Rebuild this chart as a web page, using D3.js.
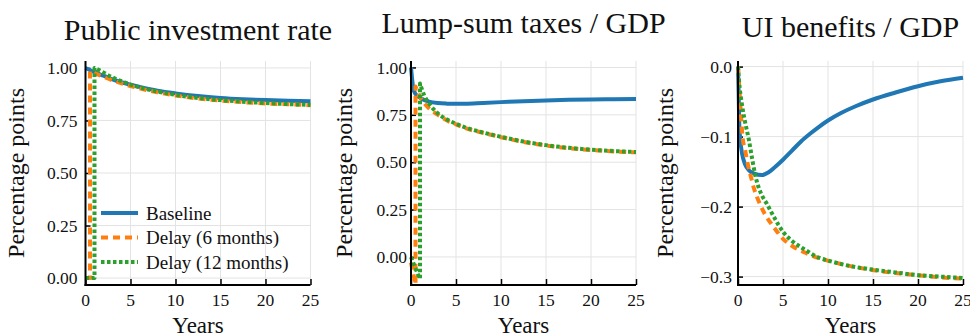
<!DOCTYPE html>
<html>
<head>
<meta charset="utf-8">
<script src="https://cdn.jsdelivr.net/npm/d3@7"></script>
<style>
  html, body { margin: 0; padding: 0; background: #fff; }
  svg { display: block; }
  text { font-family: "Liberation Serif", "DejaVu Serif", serif; fill: #111; }
</style>
</head>
<body>
<svg id="chart" width="970" height="336"></svg>
<script>
// ---- Chart data ----
const panelTitles = ["Public investment rate", "Lump-sum taxes / GDP", "UI benefits / GDP"];
const seriesNames = ["Baseline", "Delay (6 months)", "Delay (12 months)"];
const yearTicks = [0, 5, 10, 15, 20, 25];
const shareTicks = [0, 0.25, 0.5, 0.75, 1];
const uiTicks = [-0.3, -0.2, -0.1, 0];

// Public investment rate
const invBaseT = [0, 1, 2, 3, 4, 5, 6, 8, 10, 12.5, 15, 17.5, 20, 22.5, 25];
const invBaseV = [1.0, 0.98, 0.963, 0.946, 0.932, 0.92, 0.91, 0.892, 0.879, 0.866, 0.857, 0.851, 0.847, 0.844, 0.842];
const invD6PreT = [0, 0.5];
const invD6PreV = [0, 0];
const invD6T = [0.5, 1, 2, 3, 4, 5, 6, 8, 10, 12.5, 15, 17.5, 20, 22.5, 25];
const invD6V = [0.985, 0.975, 0.958, 0.941, 0.927, 0.914, 0.903, 0.884, 0.869, 0.855, 0.845, 0.837, 0.831, 0.827, 0.823];
const invD12PreT = [0, 1];
const invD12PreV = [0, 0];
const invD12T = [1, 1.5, 2, 3, 4, 5, 6, 8, 10, 12.5, 15, 17.5, 20, 22.5, 25];
const invD12V = [1.0, 0.99, 0.978, 0.955, 0.937, 0.921, 0.908, 0.888, 0.872, 0.857, 0.847, 0.839, 0.833, 0.828, 0.824];

// Lump-sum taxes / GDP
const taxBaseT = [0, 0.1, 0.25, 0.5, 1, 1.5, 2, 3, 4, 5, 6, 8, 10, 12.5, 15, 17.5, 20, 22.5, 25];
const taxBaseV = [1.0, 0.95, 0.89, 0.86, 0.84, 0.828, 0.82, 0.812, 0.809, 0.808, 0.809, 0.813, 0.817, 0.822, 0.826, 0.829, 0.831, 0.832, 0.833];
const taxD6PreT = [0, 0.25, 0.5];
const taxD6PreV = [-0.03, -0.09, -0.145];
const taxD6T = [0.5, 0.75, 1, 1.5, 2, 3, 4, 5, 6, 8, 10, 12.5, 15, 17.5, 20, 22.5, 25];
const taxD6V = [0.9, 0.87, 0.845, 0.81, 0.785, 0.75, 0.72, 0.70, 0.68, 0.655, 0.632, 0.607, 0.588, 0.574, 0.564, 0.557, 0.552];
const taxD12PreT = [0, 0.25, 0.5, 0.75, 1];
const taxD12PreV = [0.0, -0.03, -0.06, -0.09, -0.115];
const taxD12T = [1, 1.25, 1.5, 2, 2.5, 3, 4, 5, 6, 8, 10, 12.5, 15, 17.5, 20, 22.5, 25];
const taxD12V = [0.915, 0.88, 0.85, 0.81, 0.78, 0.757, 0.725, 0.703, 0.684, 0.657, 0.634, 0.609, 0.59, 0.576, 0.566, 0.559, 0.554];

// UI benefits / GDP
const uiBaseT = [0, 0.07, 0.15, 0.3, 0.45, 0.8, 1.2, 1.8, 2.65, 3.4, 4.15, 5, 6, 7, 8, 9, 10, 11.5, 13, 15, 17.5, 20, 22.5, 25];
const uiBaseV = [0, -0.038, -0.086, -0.11, -0.124, -0.14, -0.148, -0.153, -0.155, -0.151, -0.143, -0.133, -0.12, -0.107, -0.096, -0.086, -0.077, -0.066, -0.057, -0.047, -0.037, -0.028, -0.021, -0.016];
const uiD6T = [0, 0.1, 0.3, 0.5, 0.8, 1.1, 1.45, 1.75, 2.1, 2.5, 3, 3.9, 5, 6.1, 7.5, 8.8, 10.2, 12.5, 14.7, 17.5, 20, 22.5, 25];
const uiD6V = [0, -0.022, -0.062, -0.1, -0.12, -0.14, -0.158, -0.173, -0.186, -0.198, -0.211, -0.228, -0.246, -0.257, -0.266, -0.273, -0.278, -0.285, -0.29, -0.295, -0.298, -0.301, -0.303];
const uiD12T = [0, 0.1, 0.45, 0.8, 1.2, 1.55, 1.9, 2.3, 2.7, 3.2, 4, 5, 6, 7.5, 8.8, 10, 12.5, 15, 17.5, 20, 22.5, 25];
const uiD12V = [0, -0.018, -0.055, -0.08, -0.104, -0.13, -0.154, -0.173, -0.185, -0.196, -0.215, -0.236, -0.249, -0.262, -0.272, -0.277, -0.285, -0.29, -0.294, -0.298, -0.3, -0.302];

// ---- Styling ----
const colors = ["#1f77b4", "#ff7f0e", "#2ca02c"];
const dashes = [null, "7,5", "3.5,2.5"];
const lineWidth = 4;

const svg = d3.select("#chart");
const plotTop = 61, plotBottom = 285, plotW = 225;

const zipPts = (t, v) => t.map((x, i) => [x, v[i]]);

const panels = [
  {
    title: panelTitles[0], titleY: 40, x0: 85.5, yDomain: [-0.033, 1.033],
    ticks: shareTicks, fmt: d3.format(".2f"), tickLabelX: -8, ylabX: 23.5,
    series: [
      [zipPts(invBaseT, invBaseV)],
      [zipPts(invD6PreT, invD6PreV), zipPts(invD6T, invD6V)],
      [zipPts(invD12PreT, invD12PreV), zipPts(invD12T, invD12V)]
    ],
    legend: true
  },
  {
    title: panelTitles[1], titleY: 33, x0: 411, yDomain: [-0.148, 1.034],
    ticks: shareTicks, fmt: d3.format(".2f"), tickLabelX: -4, ylabX: 352,
    series: [
      [zipPts(taxBaseT, taxBaseV)],
      [zipPts(taxD6PreT, taxD6PreV), zipPts(taxD6T, taxD6V)],
      [zipPts(taxD12PreT, taxD12PreV), zipPts(taxD12T, taxD12V)]
    ]
  },
  {
    title: panelTitles[2], titleY: 37, x0: 738, yDomain: [-0.312, 0.008],
    ticks: uiTicks, fmt: d3.format(".1f"), tickLabelX: -6, ylabX: 673,
    series: [
      [zipPts(uiBaseT, uiBaseV)],
      [zipPts(uiD6T, uiD6V)],
      [zipPts(uiD12T, uiD12V)]
    ]
  }
];

panels.forEach(p => {
  const x = d3.scaleLinear().domain([0, 25]).range([p.x0, p.x0 + plotW]);
  const y = d3.scaleLinear().domain(p.yDomain).range([plotBottom, plotTop]);
  const g = svg.append("g");

  // grid
  g.append("g").selectAll("line").data(yearTicks.slice(1)).join("line")
    .attr("x1", d => x(d)).attr("x2", d => x(d))
    .attr("y1", plotTop).attr("y2", plotBottom)
    .attr("stroke", "#e3e3e3").attr("stroke-width", 1);
  g.append("g").selectAll("line").data(p.ticks).join("line")
    .attr("x1", p.x0).attr("x2", p.x0 + plotW)
    .attr("y1", d => y(d)).attr("y2", d => y(d))
    .attr("stroke", "#e3e3e3").attr("stroke-width", 1);

  // axes (ticks pointing inward)
  const xAxis = d3.axisTop(x).tickValues(yearTicks).tickSize(6).tickFormat("");
  const yAxis = d3.axisRight(y).tickValues(p.ticks).tickSize(5).tickFormat("");
  g.append("g").attr("transform", `translate(0,${plotBottom})`).call(xAxis)
    .call(a => a.select(".domain").remove())
    .selectAll("line").attr("stroke", "#000").attr("stroke-width", 1.5);
  g.append("g").attr("transform", `translate(${p.x0},0)`).call(yAxis)
    .call(a => a.select(".domain").remove())
    .selectAll("line").attr("stroke", "#000").attr("stroke-width", 1.5);

  // tick labels
  g.append("g").selectAll("text").data(yearTicks).join("text")
    .attr("x", d => x(d)).attr("y", 306)
    .attr("text-anchor", "middle").style("font-size", "17.5px")
    .text(d => d);
  g.append("g").selectAll("text").data(p.ticks).join("text")
    .attr("x", p.x0 + p.tickLabelX).attr("y", d => y(d)).attr("dy", "0.35em")
    .attr("text-anchor", "end").style("font-size", "17.5px")
    .text(d => p.fmt(d));

  // series
  const line = d3.line().x(d => x(d[0])).y(d => y(d[1])).curve(d3.curveMonotoneX);
  p.series.forEach((segs, si) => {
    const dStr = segs.map((s, k) => {
      const path = line(s);
      return k === 0 ? path : path.replace(/^M/, "L");
    }).join("");
    g.append("path").attr("d", dStr)
      .attr("fill", "none").attr("stroke", colors[si])
      .attr("stroke-width", lineWidth)
      .attr("stroke-dasharray", dashes[si])
      .attr("stroke-linejoin", "round");
  });

  // axis lines
  g.append("line").attr("x1", p.x0).attr("x2", p.x0)
    .attr("y1", plotTop).attr("y2", plotBottom + 1)
    .attr("stroke", "#000").attr("stroke-width", 2);
  g.append("line").attr("x1", p.x0 - 1).attr("x2", p.x0 + plotW)
    .attr("y1", plotBottom).attr("y2", plotBottom)
    .attr("stroke", "#000").attr("stroke-width", 2);

  // labels
  g.append("text").attr("x", p.x0 + plotW / 2).attr("y", p.titleY)
    .attr("text-anchor", "middle").style("font-size", "30px").text(p.title);
  g.append("text").attr("x", p.x0 + plotW / 2).attr("y", 333)
    .attr("text-anchor", "middle").style("font-size", "23px").text("Years");
  g.append("text")
    .attr("transform", `translate(${p.ylabX},${(plotTop + plotBottom) / 2}) rotate(-90)`)
    .attr("text-anchor", "middle").style("font-size", "24px").text("Percentage points");

  if (p.legend) {
    const lg = g.append("g");
    seriesNames.forEach((name, i) => {
      const ly = 213 + i * 24.5;
      lg.append("line").attr("x1", 101).attr("x2", 138).attr("y1", ly).attr("y2", ly)
        .attr("stroke", colors[i]).attr("stroke-width", lineWidth)
        .attr("stroke-dasharray", dashes[i]);
      lg.append("text").attr("x", 146).attr("y", ly).attr("dy", "0.35em")
        .style("font-size", "19px").text(name);
    });
  }
});
</script>
</body>
</html>
